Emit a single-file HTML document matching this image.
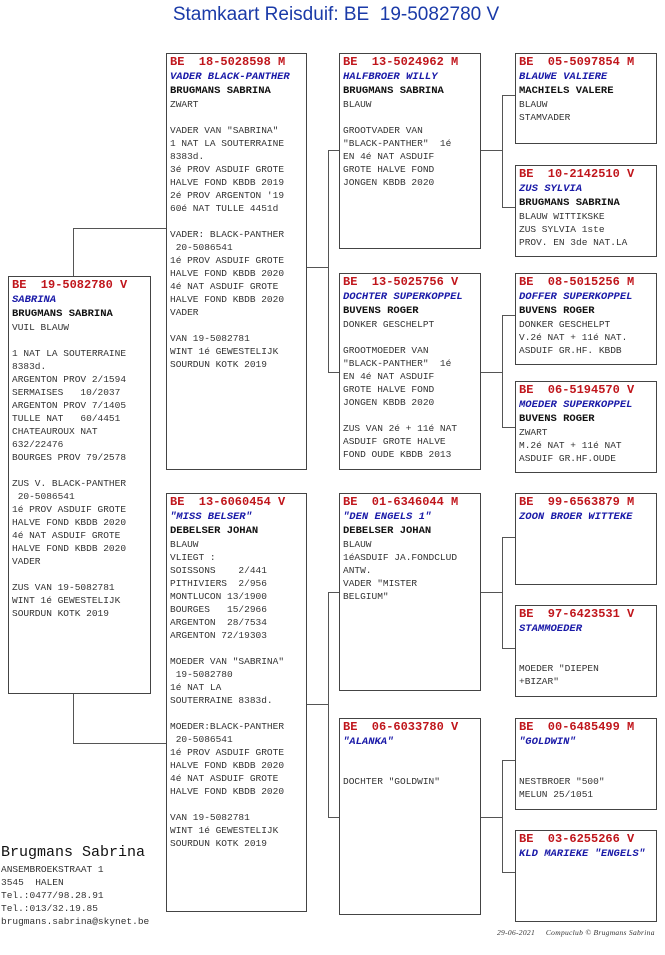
<!DOCTYPE html>
<html><head><meta charset="utf-8"><style>
body{margin:0;width:665px;height:955px;background:#fff;position:relative;overflow:hidden;font-family:"Liberation Mono",monospace;}
.b{position:absolute;border:1px solid #444;background:#fff;box-sizing:border-box;padding:1px 0 0 3px;font-size:9.5px;line-height:13px;color:#333;white-space:pre;}
.h{color:#c0161c;font-weight:bold;font-size:12px;line-height:15px;}
.i{color:#1a1aa8;font-weight:bold;font-style:italic;font-size:10.5px;}
.n{color:#111;font-weight:bold;font-size:10.5px;}
.l{position:absolute;background:#555;}
</style></head><body>
<div style="position:absolute;left:0;width:672px;top:4px;text-align:center;font-family:'Liberation Sans',sans-serif;font-size:19px;color:#1a3aa8;white-space:pre">Stamkaart Reisduif: BE  19-5082780 V</div>

<!-- connectors -->
<div class="l" style="left:73px;top:228px;width:1px;height:48px"></div>
<div class="l" style="left:73px;top:228px;width:93px;height:1px"></div>
<div class="l" style="left:73px;top:693px;width:1px;height:50px"></div>
<div class="l" style="left:73px;top:743px;width:93px;height:1px"></div>

<div class="l" style="left:307px;top:267px;width:21px;height:1px"></div>
<div class="l" style="left:328px;top:150px;width:1px;height:222px"></div>
<div class="l" style="left:328px;top:150px;width:11px;height:1px"></div>
<div class="l" style="left:328px;top:372px;width:11px;height:1px"></div>

<div class="l" style="left:307px;top:704px;width:21px;height:1px"></div>
<div class="l" style="left:328px;top:592px;width:1px;height:225px"></div>
<div class="l" style="left:328px;top:592px;width:11px;height:1px"></div>
<div class="l" style="left:328px;top:817px;width:11px;height:1px"></div>

<div class="l" style="left:480px;top:150px;width:22px;height:1px"></div>
<div class="l" style="left:502px;top:95px;width:1px;height:112px"></div>
<div class="l" style="left:502px;top:95px;width:13px;height:1px"></div>
<div class="l" style="left:502px;top:207px;width:13px;height:1px"></div>

<div class="l" style="left:480px;top:372px;width:22px;height:1px"></div>
<div class="l" style="left:502px;top:315px;width:1px;height:112px"></div>
<div class="l" style="left:502px;top:315px;width:13px;height:1px"></div>
<div class="l" style="left:502px;top:427px;width:13px;height:1px"></div>

<div class="l" style="left:480px;top:592px;width:22px;height:1px"></div>
<div class="l" style="left:502px;top:537px;width:1px;height:111px"></div>
<div class="l" style="left:502px;top:537px;width:13px;height:1px"></div>
<div class="l" style="left:502px;top:648px;width:13px;height:1px"></div>

<div class="l" style="left:480px;top:817px;width:22px;height:1px"></div>
<div class="l" style="left:502px;top:760px;width:1px;height:112px"></div>
<div class="l" style="left:502px;top:760px;width:13px;height:1px"></div>
<div class="l" style="left:502px;top:872px;width:13px;height:1px"></div>

<!-- gen 0 -->
<div class="b" style="left:8px;top:276px;width:143px;height:418px"><span class="h">BE  19-5082780 V</span>
<span class="i">SABRINA</span>
<span class="n">BRUGMANS SABRINA</span>
VUIL BLAUW

1 NAT LA SOUTERRAINE
8383d.
ARGENTON PROV 2/1594
SERMAISES   10/2037
ARGENTON PROV 7/1405
TULLE NAT   60/4451
CHATEAUROUX NAT
632/22476
BOURGES PROV 79/2578

ZUS V. BLACK-PANTHER
 20-5086541
1é PROV ASDUIF GROTE
HALVE FOND KBDB 2020
4é NAT ASDUIF GROTE
HALVE FOND KBDB 2020
VADER

ZUS VAN 19-5082781
WINT 1é GEWESTELIJK
SOURDUN KOTK 2019</div>

<!-- gen 1 -->
<div class="b" style="left:166px;top:53px;width:141px;height:417px"><span class="h">BE  18-5028598 M</span>
<span class="i">VADER BLACK-PANTHER</span>
<span class="n">BRUGMANS SABRINA</span>
ZWART

VADER VAN "SABRINA"
1 NAT LA SOUTERRAINE
8383d.
3é PROV ASDUIF GROTE
HALVE FOND KBDB 2019
2é PROV ARGENTON '19
60é NAT TULLE 4451d

VADER: BLACK-PANTHER
 20-5086541
1é PROV ASDUIF GROTE
HALVE FOND KBDB 2020
4é NAT ASDUIF GROTE
HALVE FOND KBDB 2020
VADER

VAN 19-5082781
WINT 1é GEWESTELIJK
SOURDUN KOTK 2019</div>

<div class="b" style="left:166px;top:493px;width:141px;height:419px"><span class="h">BE  13-6060454 V</span>
<span class="i">"MISS BELSER"</span>
<span class="n">DEBELSER JOHAN</span>
BLAUW
VLIEGT :
SOISSONS    2/441
PITHIVIERS  2/956
MONTLUCON 13/1900
BOURGES   15/2966
ARGENTON  28/7534
ARGENTON 72/19303

MOEDER VAN "SABRINA"
 19-5082780
1é NAT LA
SOUTERRAINE 8383d.

MOEDER:BLACK-PANTHER
 20-5086541
1é PROV ASDUIF GROTE
HALVE FOND KBDB 2020
4é NAT ASDUIF GROTE
HALVE FOND KBDB 2020

VAN 19-5082781
WINT 1é GEWESTELIJK
SOURDUN KOTK 2019</div>

<!-- gen 2 -->
<div class="b" style="left:339px;top:53px;width:142px;height:196px"><span class="h">BE  13-5024962 M</span>
<span class="i">HALFBROER WILLY</span>
<span class="n">BRUGMANS SABRINA</span>
BLAUW

GROOTVADER VAN
"BLACK-PANTHER"  1é
EN 4é NAT ASDUIF
GROTE HALVE FOND
JONGEN KBDB 2020</div>

<div class="b" style="left:339px;top:273px;width:142px;height:197px"><span class="h">BE  13-5025756 V</span>
<span class="i">DOCHTER SUPERKOPPEL</span>
<span class="n">BUVENS ROGER</span>
DONKER GESCHELPT

GROOTMOEDER VAN
"BLACK-PANTHER"  1é
EN 4é NAT ASDUIF
GROTE HALVE FOND
JONGEN KBDB 2020

ZUS VAN 2é + 11é NAT
ASDUIF GROTE HALVE
FOND OUDE KBDB 2013</div>

<div class="b" style="left:339px;top:493px;width:142px;height:198px"><span class="h">BE  01-6346044 M</span>
<span class="i">"DEN ENGELS 1"</span>
<span class="n">DEBELSER JOHAN</span>
BLAUW
1éASDUIF JA.FONDCLUD
ANTW.
VADER "MISTER
BELGIUM"</div>

<div class="b" style="left:339px;top:718px;width:142px;height:197px"><span class="h">BE  06-6033780 V</span>
<span class="i">"ALANKA"</span>


DOCHTER "GOLDWIN"</div>

<!-- gen 3 -->
<div class="b" style="left:515px;top:53px;width:142px;height:91px"><span class="h">BE  05-5097854 M</span>
<span class="i">BLAUWE VALIERE</span>
<span class="n">MACHIELS VALERE</span>
BLAUW
STAMVADER</div>
<div class="b" style="left:515px;top:165px;width:142px;height:92px"><span class="h">BE  10-2142510 V</span>
<span class="i">ZUS SYLVIA</span>
<span class="n">BRUGMANS SABRINA</span>
BLAUW WITTIKSKE
ZUS SYLVIA 1ste
PROV. EN 3de NAT.LA</div>
<div class="b" style="left:515px;top:273px;width:142px;height:92px"><span class="h">BE  08-5015256 M</span>
<span class="i">DOFFER SUPERKOPPEL</span>
<span class="n">BUVENS ROGER</span>
DONKER GESCHELPT
V.2é NAT + 11é NAT.
ASDUIF GR.HF. KBDB</div>
<div class="b" style="left:515px;top:381px;width:142px;height:92px"><span class="h">BE  06-5194570 V</span>
<span class="i">MOEDER SUPERKOPPEL</span>
<span class="n">BUVENS ROGER</span>
ZWART
M.2é NAT + 11é NAT
ASDUIF GR.HF.OUDE</div>
<div class="b" style="left:515px;top:493px;width:142px;height:92px"><span class="h">BE  99-6563879 M</span>
<span class="i">ZOON BROER WITTEKE</span></div>
<div class="b" style="left:515px;top:605px;width:142px;height:92px"><span class="h">BE  97-6423531 V</span>
<span class="i">STAMMOEDER</span>


MOEDER "DIEPEN
+BIZAR"</div>
<div class="b" style="left:515px;top:718px;width:142px;height:92px"><span class="h">BE  00-6485499 M</span>
<span class="i">"GOLDWIN"</span>


NESTBROER "500"
MELUN 25/1051</div>
<div class="b" style="left:515px;top:830px;width:142px;height:92px"><span class="h">BE  03-6255266 V</span>
<span class="i">KLD MARIEKE "ENGELS"</span></div>

<!-- footer -->
<div style="position:absolute;left:1px;top:844px;font-size:15px;color:#111;white-space:pre">Brugmans Sabrina</div>
<div style="position:absolute;left:1px;top:863px;font-size:9.5px;line-height:13px;color:#333;white-space:pre">ANSEMBROEKSTRAAT 1
3545  HALEN
Tel.:0477/98.28.91
Tel.:013/32.19.85
brugmans.sabrina@skynet.be</div>
<div style="position:absolute;left:497px;top:928px;font-family:'Liberation Serif',serif;font-style:italic;font-size:7.5px;letter-spacing:0.3px;color:#333;white-space:pre">29-06-2021     Compuclub © Brugmans Sabrina</div>
</body></html>
